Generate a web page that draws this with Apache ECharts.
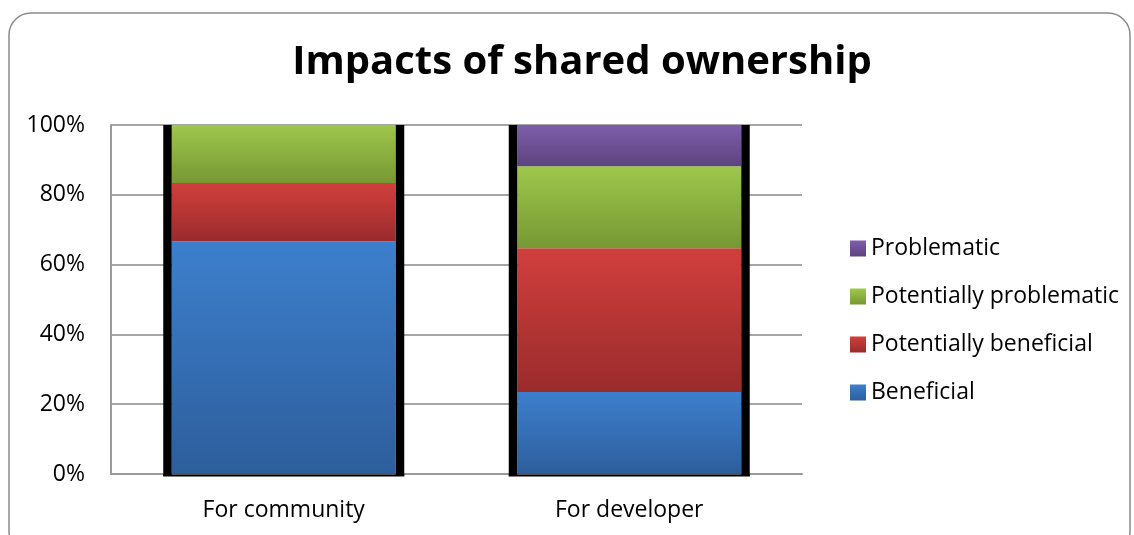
<!DOCTYPE html>
<html>
<head>
<meta charset="utf-8">
<style>
  html, body { margin: 0; padding: 0; background: #ffffff; }
  #chart { width: 1134px; height: 535px; }
</style>
<script src="https://cdn.jsdelivr.net/npm/echarts@6/dist/echarts.min.js"></script>
</head>
<body>
<div id="chart"></div>
<script>
// Categories and stacked shares (percent of responses)
const categories = ['For community', 'For developer'];
const beneficial = [66.7, 23.5];
const potentiallyBeneficial = [16.7, 41.2];
const potentiallyProblematic = [16.6, 23.5];
const problematic = [0, 11.8];
const yTicks = [0, 20, 40, 60, 80, 100];

const FONT = '"Open Sans", "Noto Sans", sans-serif';

function grad(top, bottom) {
  return new echarts.graphic.LinearGradient(0, 0, 0, 1, [
    { offset: 0, color: top },
    { offset: 1, color: bottom }
  ]);
}

const seriesDefs = [
  { name: 'Beneficial', data: beneficial, top: '#3d7fcd', bottom: '#2d5e9c' },
  { name: 'Potentially beneficial', data: potentiallyBeneficial, top: '#d13f3d', bottom: '#9a2b2c' },
  { name: 'Potentially problematic', data: potentiallyProblematic, top: '#9ec74b', bottom: '#779834' },
  { name: 'Problematic', data: problematic, top: '#7e5eab', bottom: '#5d437f' }
];

// Totals per category, used for the black side frames of each column
const totals = categories.map((_, i) => seriesDefs.reduce((s, d) => s + d.data[i], 0));

const chart = echarts.init(document.getElementById('chart'));

const option = {
  animation: false,
  backgroundColor: '#ffffff',
  title: {
    text: 'Impacts of shared ownership',
    left: 577,
    textAlign: 'center',
    top: 38,
    textStyle: { fontFamily: FONT, fontWeight: 'bold', fontSize: 40, color: '#000000' }
  },
  graphic: [{
    type: 'rect',
    shape: { x: 9, y: 13, width: 1121, height: 540, r: 22 },
    style: { fill: 'none', stroke: '#8c8c8c', lineWidth: 1.5 },
    z: -1
  }],
  legend: {
    orient: 'vertical',
    left: 845,
    top: 232,
    itemWidth: 16,
    itemHeight: 16,
    itemGap: 25,
    icon: 'rect',
    data: ['Problematic', 'Potentially problematic', 'Potentially beneficial', 'Beneficial'],
    textStyle: { fontFamily: FONT, fontSize: 23, color: '#000000', padding: [0, 0, 0, 0] }
  },
  grid: { left: 111, right: 332, top: 125, bottom: 61, containLabel: false },
  xAxis: {
    type: 'category',
    data: categories,
    axisLine: { lineStyle: { color: '#9a9a9a', width: 2 } },
    axisTick: { show: false },
    axisLabel: { fontFamily: FONT, fontSize: 23, color: '#000000', margin: 25 }
  },
  yAxis: {
    type: 'value',
    min: yTicks[0],
    max: yTicks[yTicks.length - 1],
    interval: 20,
    axisLine: { show: true, lineStyle: { color: '#9a9a9a', width: 2 } },
    axisTick: { show: false },
    splitLine: { lineStyle: { color: '#a6a6a6', width: 2 } },
    axisLabel: { fontFamily: FONT, fontSize: 23, color: '#000000', margin: 26, formatter: '{value}%' }
  },
  series: seriesDefs.map(d => ({
    name: d.name,
    type: 'bar',
    stack: 'total',
    barWidth: 224,
    data: d.data,
    itemStyle: { color: grad(d.top, d.bottom) },
    z: 2
  })).concat([{
    // Black side frames drawn from each column's total
    name: 'frame',
    type: 'custom',
    data: categories.map((_, i) => [i, totals[i]]),
    z: 3,
    silent: true,
    renderItem: function (params, api) {
      const top = api.coord([api.value(0), api.value(1)]);
      const base = api.coord([api.value(0), 0]);
      const inner = 112, side = 8.5;
      const h = base[1] - top[1];
      return {
        type: 'group',
        children: [
          { type: 'rect', shape: { x: top[0] - inner - side, y: top[1], width: side, height: h + 2 }, style: { fill: '#000' } },
          { type: 'rect', shape: { x: top[0] + inner, y: top[1], width: side, height: h + 2 }, style: { fill: '#000' } },
          { type: 'rect', shape: { x: top[0] - inner - side, y: base[1] + 0.5, width: 2 * (inner + side), height: 2 }, style: { fill: '#000' } }
        ]
      };
    }
  }])
};

chart.setOption(option);
</script>
</body>
</html>
